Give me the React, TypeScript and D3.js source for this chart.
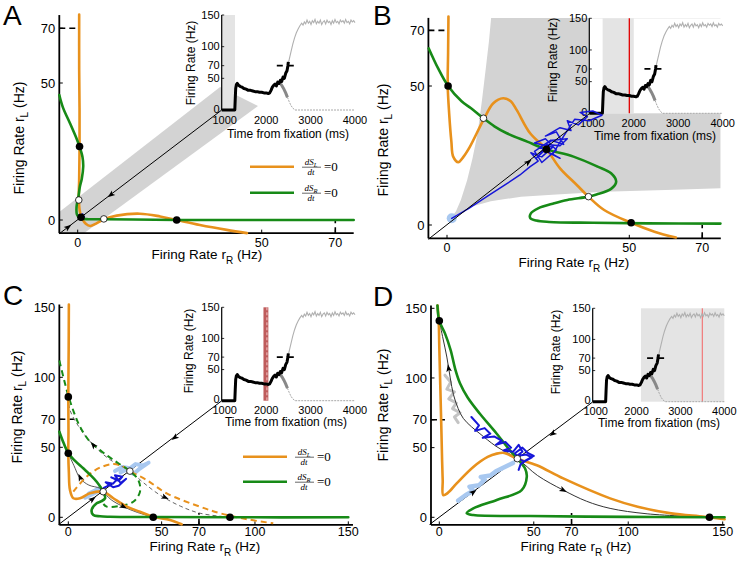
import React from 'react';
import * as d3 from 'd3';

type Pt = [number, number];

const FONT = "'Liberation Sans', Arial, Helvetica, sans-serif";
const SERIF = "'Liberation Serif', 'DejaVu Serif', serif";
const ORANGE = '#E8911C';
const GREEN = '#178A17';
const BLUE = '#1616D8';
const LIGHTBLUE = '#A8C8F0';
const SHADE = '#D3D3D3';
const INSET_SHADE = '#E4E4E4';

// ---------------- inset time course (shared) ----------------
const insetTimeTicks = [1000, 2000, 3000, 4000];
const insetRateTicks = [0, 50, 70, 100, 150];
const traceBlack: Pt[] = [[1000, 0], [1295, 0], [1305, 18], [1315, 34], [1330, 40], [1350, 42], [1380, 39], [1420, 37], [1460, 36], [1500, 34], [1550, 33], [1600, 31], [1650, 31], [1700, 30], [1750, 29], [1800, 29], [1850, 28], [1900, 28], [1950, 27], [2000, 27], [2050, 26], [2080, 27], [2110, 31], [2140, 36], [2170, 39], [2200, 41], [2230, 38], [2260, 44], [2290, 42], [2320, 47], [2350, 45], [2380, 52], [2410, 50], [2440, 58], [2470, 62], [2490, 70], [2500, 76]];
const traceGrayFall: Pt[] = [[2280, 45], [2320, 42], [2360, 38], [2400, 33], [2440, 27], [2480, 20]];
const traceGrayTail: Pt[] = [[2480, 20], [2520, 13], [2560, 7], [2600, 3], [2650, 0], [4000, 0]];
const traceLight: Pt[] = [[2480, 68], [2520, 80], [2560, 92], [2600, 104], [2640, 114], [2680, 122], [2720, 128], [2760, 133], [2800, 137], [2830, 134], [2860, 139], [2890, 136], [2920, 142], [2950, 137], [2980, 140], [3010, 135], [3040, 141], [3070, 138], [3100, 143], [3130, 136], [3160, 140], [3190, 137], [3220, 142], [3250, 135], [3280, 139], [3310, 141], [3340, 136], [3370, 142], [3400, 138], [3430, 140], [3460, 135], [3490, 141], [3520, 137], [3550, 143], [3580, 138], [3610, 140], [3640, 136], [3670, 142], [3700, 139], [3730, 141], [3760, 137], [3790, 143], [3820, 138], [3850, 140], [3880, 136], [3910, 142], [3940, 139], [3970, 141], [4000, 138]];
const insetThreshold: Pt[] = [[2240, 70], [2730, 70]];

// ---------------- Panel A ----------------
const ticksA = [0, 50, 70];
const bandA: Pt[] = [[-5, -4.8], [-5, 2.9], [38.7, 48.5], [49, 41.6], [1.7, -4.8]];
const diagA: Pt[] = [[-5, -5], [39, 40]];
const orangeA: Pt[] = [[0.4, 75], [0.4, 55], [0.5, 40], [0.5, 26.8], [0.4, 15], [0.3, 8], [0.6, 3], [1.3, 0.3], [2.2, -1.4], [3.4, -2.2], [5, -1.3], [7, 0.2], [10.6, 1.6], [16.9, 2.3], [22.4, 1.3], [26.9, 0], [33.2, -1.8], [40.5, -3.6], [46, -4.8]];
const greenA: Pt[] = [[-5, 45.6], [-4, 41], [-2.1, 35.3], [-0.4, 30], [0.5, 26.8], [1.3, 23], [1.5, 19.5], [1.1, 15], [0.6, 12.2], [0.2, 8.5], [-0.3, 5], [-0.2, 2], [0.6, 0.7], [3, 0.3], [7.1, 0.3], [15, 0.2], [26.9, 0], [50, 0], [75, 0]];
const blueA: Pt[] = [[0.4, 1.6], [1.4, 2.2], [1.0, 0.6], [1.8, 1.3]];
const blackDotsA: Pt[] = [[0.5, 26.8], [0.9, 1.0], [26.9, 0]];
const whiteDotsA: Pt[] = [[0.3, 7.3], [7.1, 0.4]];
const arrowsA = [[9, 9.2, -1, -1], [-2.6, -2.6, 1, 1]];

// ---------------- Panel B ----------------
const ticksB = [0, 50, 70];
const regionB: Pt[] = [[1.1, 2.4], [2.5, 5], [3.8, 9], [5.5, 16], [7, 24], [8.4, 33], [9.6, 45], [10.7, 57], [11.5, 66], [12.1, 74.5], [75, 74.5], [75, 13.2], [60, 12.6], [43, 12], [30, 11], [20.3, 10.2], [12, 8.5], [6.6, 6.6], [3, 4]];
const diagB: Pt[] = [[-5, -5], [39, 40]];
const orangeB: Pt[] = [[0.4, 75], [0.3, 62], [0.2, 50], [0.6, 40], [1.2, 30], [1.7, 24.6], [3.1, 22.6], [4.5, 24.5], [6.3, 28.2], [10, 37.8], [12.7, 43.8], [15.4, 45.6], [17.5, 44.5], [19.1, 41.4], [22.8, 33], [27.3, 27.2], [31, 20.4], [35.6, 14.4], [38.8, 10.2], [43.1, 5.4], [50.5, 0.8], [56.9, -2.4], [62.8, -4.5]];
const greenB: Pt[] = [[-5, 63.5], [-2.5, 56.5], [0.3, 50], [4, 44.5], [6.6, 42], [10, 38.4], [13, 35.5], [16.4, 33], [22, 30], [27.3, 27.2], [34.7, 24.6], [41.3, 21], [45, 18.6], [46.4, 15.6], [45, 13], [41, 11], [38.8, 10.2], [33, 9], [29.4, 7.8], [25, 6], [23, 4.2], [22.8, 2.6], [24.5, 1.6], [28, 1.1], [40, 0.8], [55, 0.6], [75, 0.5]];
const blueB: Pt[] = [[1.3, 2.4], [6, 6], [10.9, 10.2], [16, 14.5], [20, 18], [22.8, 21], [25, 23], [23, 26], [26, 24.5], [29, 28], [24, 29.5], [27, 31], [30, 27], [26, 22.5], [24, 26.5], [28.5, 30.5], [32, 29], [30, 33.5], [27, 32], [31, 35], [34, 34], [33, 37.5], [36, 36], [38.5, 39], [36.5, 40.5], [40, 41], [42.5, 39.5], [39, 37.5], [35, 38], [32, 32], [29, 25.5], [31, 24], [28, 26], [25.5, 28], [29, 30.5], [33, 31], [31, 28.5], [27.5, 29], [24.5, 24], [26.5, 26.5]];
const lightBlueB: Pt[] = [[1.3, 2.4]];
const blackDotsB: Pt[] = [[0.3, 50], [27.3, 27.2], [50.5, 0.8]];
const whiteDotsB: Pt[] = [[10, 38.4], [38.8, 10.2]];
const arrowsB = [[22.3, 22.6, 1, 1]];

// ---------------- Panel C ----------------
const ticksC = [0, 50, 70, 100, 150];
const diagC: Pt[] = [[-5, -5], [82, 83]];
const orangeC: Pt[] = [[0.3, 152], [0.2, 120], [0, 86], [0.1, 62], [0, 45.7], [0.3, 32], [0.9, 19.5], [2.7, 13.6], [6.3, 13.6], [11.6, 17.1], [18.7, 18.3], [24.1, 13.6], [31.3, 7.6], [38.4, 4], [45.5, 0.4], [54.5, -1.9], [60.7, -5]];
const greenC: Pt[] = [[-4.8, 61.1], [-2.5, 53], [0, 45.7], [3.5, 40.5], [8, 35], [12, 30], [15.2, 25.4], [18.7, 18.3], [19.7, 13.6], [17.5, 11.3], [15.2, 10], [12.5, 5.2], [13.4, 1.6], [17, 0.7], [22.3, 0.4], [45.5, 0.2], [86.6, 0], [150, 0]];
const orangeDashC: Pt[] = [[2.7, 18.3], [9.8, 29], [17, 35.5], [24, 38], [29, 36.5], [33, 33], [42, 26.6], [52.7, 17.1], [70.5, 7.6], [81.3, 2.9], [95, -1.2], [109.8, -4.3]];
const greenDashC: Pt[] = [[-4.8, 112], [-2.6, 100], [0, 87], [3, 75], [6.3, 64.7], [11, 55], [17, 48], [22, 43], [26.8, 38.6], [33, 33], [37.5, 26.6], [38.4, 18.3], [34.8, 11.1], [27.7, 8.1], [20.6, 7.6], [18.8, 9.5]];
const graySolidC: Pt[] = [[0, 45.7], [3, 37], [6.3, 27.9], [11, 23], [17, 20.7], [18.7, 18.3], [23, 12.5], [29.5, 7.6], [37, 3.5], [45.5, 0.2]];
const grayDashC: Pt[] = [[0, 86], [0.9, 76.6], [6, 64], [13.4, 51.6], [22, 41.5], [33, 33], [40, 25], [49.1, 15.9], [60, 8], [70.6, 2.9], [86.6, 0]];
const blueC: Pt[] = [[19, 21], [22, 23], [20, 25], [24, 24], [26, 27], [23, 28.5], [27, 26], [29, 29], [25, 30], [28, 24.5], [31, 27.5], [27, 22.5], [24, 21.5], [21, 24]];
const lightBlueC1: Pt[] = [[25, 33], [29, 36], [33, 35], [36, 38], [40, 37], [43, 39], [38, 34.5], [35, 31], [31, 34], [28, 32]];
const lightBlueC2: Pt[] = [[9, 14], [12, 16], [15, 18], [17, 21], [14, 19], [11, 17]];
const blackDotsC: Pt[] = [[0, 86], [0, 45.7], [45.5, 0], [86.6, 0]];
const whiteDotsC: Pt[] = [[18.7, 18.3], [33, 33]];
const arrowsC = [[57, 57, -1, -1], [13, 13, 1, 1], [6.3, 28.5, -1, 3], [29.5, 7.6, 1, -0.7], [13.4, 51.6, -1, 1.6], [51.8, 14.2, 1, -0.6]];

// ---------------- Panel D ----------------
const ticksD = [0, 50, 70, 100, 150];
const diagD: Pt[] = [[-5, -5], [81, 82.6]];
const orangeD: Pt[] = [[-0.9, 152], [-0.3, 140], [0, 122], [0.9, 74.3], [1.5, 40], [1.8, 26.6], [2.1, 15.9], [4.5, 17.5], [9.2, 24.3], [18, 36.1], [25.6, 43.3], [30.4, 45.7], [34.4, 46.2], [37.4, 44.5], [41.3, 42.1], [51.6, 37.4], [65.6, 27.9], [90.4, 13.6], [105, 7.6], [122.7, 2.8], [140.3, 0.4], [151, -1.4]];
const greenD: Pt[] = [[-1, 152], [0, 141], [3, 132], [6, 120], [8.5, 106], [11, 96], [15, 86], [21.5, 74.3], [30.4, 60], [37.4, 48], [41.3, 42.1], [45.4, 35], [46.3, 29], [43.6, 19.5], [30.4, 12.4], [18, 6.4], [14.5, 2.9], [18, 1.6], [48, 0.9], [100, 0.3], [143, 0], [151, 0]];
const thinD: Pt[] = [[0, 141], [2, 128], [4, 115], [5.8, 100], [7.5, 88], [10, 78], [12.7, 71], [17, 65], [21.5, 60], [30, 51], [41.3, 42.1], [52, 30], [65.6, 19.5], [78, 11.5], [90.4, 6.4], [110, 2.5], [143, 0]];
const blueD: Pt[] = [[17, 72], [21, 66], [19, 62], [24, 64], [27, 60], [23, 57], [29, 58], [33, 55], [30, 52], [35, 54], [38, 50], [34, 48], [39, 47], [42, 52], [44, 47], [41, 44], [46, 45], [49, 43], [45, 40], [42, 42], [40, 46], [44, 50], [47, 46], [50, 44], [46, 41], [43, 38], [42, 34]];
const lightBlueD: Pt[] = [[10, 12], [14, 16], [18, 19], [16, 22], [21, 23], [24, 27], [22, 29], [27, 30], [30, 33], [33, 35], [36, 37], [39, 39]];
const lightGrayD: Pt[] = [[3, 102], [6, 97], [4, 92], [8, 90], [5, 85], [9, 82], [7, 78], [11, 75], [8, 72], [10, 68]];
const blackDotsD: Pt[] = [[0, 141], [143, 0]];
const whiteDotsD: Pt[] = [[41.3, 42.1]];
const arrowsD = [[18, 18, 1, 1], [60, 60, -1, -1], [4.9, 107, -1, 8], [65.6, 19.5, 1, -0.7]];

// ---------------- geometry ----------------
interface Geo { xTick: [number, number]; xPix: [number, number]; yTick: [number, number]; yPix: [number, number]; ext: [number, number, number, number]; }
const geoA: Geo = { xTick: [0, 50], xPix: [77.7, 261.7], yTick: [0, 50], yPix: [220, 83], ext: [-5, 75, -4.8, 74.8] };
const geoB: Geo = { xTick: [0, 50], xPix: [447, 629.3], yTick: [0, 50], yPix: [225, 86], ext: [-5.1, 75.1, -4.8, 74.5] };
const geoC: Geo = { xTick: [0, 150], xPix: [68.3, 348.3], yTick: [0, 150], yPix: [517.3, 307.3], ext: [-4.8, 152.5, -5.4, 152] };
const geoD: Geo = { xTick: [0, 150], xPix: [439.3, 722.7], yTick: [0, 150], yPix: [517.3, 308.3], ext: [-4.4, 151, -5.5, 152] };

interface IGeo { x0: number; x1: number; y0: number; y1: number; }
const insA: IGeo = { x0: 221.7, x1: 355, y0: 110, y1: 15 };
const insB: IGeo = { x0: 589.3, x1: 722.7, y0: 113.3, y1: 18.3 };
const insC: IGeo = { x0: 221.7, x1: 355, y0: 400.7, y1: 307.3 };
const insD: IGeo = { x0: 592.7, x1: 724.3, y0: 401.7, y1: 308.3 };

type S = { sx: d3.ScaleLinear<number, number>; sy: d3.ScaleLinear<number, number>; g: Geo };
function scales(g: Geo): S {
  return { sx: d3.scaleLinear().domain(g.xTick).range(g.xPix), sy: d3.scaleLinear().domain(g.yTick).range(g.yPix), g };
}

function Curve({ s, data, color, width, dash, smooth = true, opacity = 1 }: { s: S; data: Pt[]; color: string; width: number; dash?: string; smooth?: boolean; opacity?: number }) {
  const gen = d3.line<Pt>().x(d => s.sx(d[0])).y(d => s.sy(d[1])).curve(smooth ? d3.curveCatmullRom.alpha(0.5) : d3.curveLinear);
  return <path d={gen(data) || ''} fill="none" stroke={color} strokeWidth={width} strokeDasharray={dash} strokeLinejoin="round" strokeLinecap={dash ? 'butt' : 'round'} opacity={opacity} />;
}

function Area({ s, data, fill }: { s: S; data: Pt[]; fill: string }) {
  const gen = d3.line<Pt>().x(d => s.sx(d[0])).y(d => s.sy(d[1])).curve(d3.curveLinearClosed);
  return <path d={gen(data) || ''} fill={fill} stroke="none" />;
}

function Dots({ s, black, white }: { s: S; black: Pt[]; white: Pt[] }) {
  return (
    <g>
      {black.map((d, i) => <circle key={'b' + i} cx={s.sx(d[0])} cy={s.sy(d[1])} r={3.8} fill="#000" />)}
      {white.map((d, i) => <circle key={'w' + i} cx={s.sx(d[0])} cy={s.sy(d[1])} r={3.3} fill="#fff" stroke="#000" strokeWidth={0.8} />)}
    </g>
  );
}

function Arrows({ s, data }: { s: S; data: number[][] }) {
  return (
    <g>
      {data.map((a, i) => {
        const [x, y, dx, dy] = a;
        const px = s.sx(x), py = s.sy(y);
        const vx = s.sx(x + dx) - px, vy = s.sy(y + dy) - py;
        const ang = (Math.atan2(vy, vx) * 180) / Math.PI;
        return <path key={i} d="M4,0 L-3.5,-2.8 L-1.8,0 L-3.5,2.8 Z" transform={`translate(${px},${py}) rotate(${ang})`} fill="#000" />;
      })}
    </g>
  );
}

function Axes({ s, ticks, thr, thrEnd, tickBase, ylab, xlab, letter, letterPos }: { s: S; ticks: number[]; thr: number; thrEnd: number; tickBase: number; ylab: [number, number]; xlab: [number, number]; letter: string; letterPos: [number, number] }) {
  const { sx, sy, g } = s;
  const [xmin, xmax, ymin, ymax] = g.ext;
  const X0 = sx(xmin), X1 = sx(xmax), Y0 = sy(ymin), Y1 = sy(ymax);
  return (
    <g fontFamily={FONT} fill="#000">
      <line x1={X0} y1={Y0} x2={X1} y2={Y0} stroke="#000" strokeWidth={1.8} />
      <line x1={X0} y1={Y0} x2={X0} y2={Y1} stroke="#000" strokeWidth={1.8} />
      {ticks.map(t => (
        <g key={'x' + t}>
          <line x1={sx(t)} x2={sx(t)} y1={Y0} y2={Y0 - 3.5} stroke="#000" strokeWidth={1} />
          <text x={sx(t)} y={tickBase} fontSize={12.5} textAnchor="middle">{t}</text>
        </g>
      ))}
      {ticks.map(t => (
        <g key={'y' + t}>
          <line x1={X0} x2={X0 + 3.5} y1={sy(t)} y2={sy(t)} stroke="#000" strokeWidth={1} />
          <text x={X0 - 4} y={sy(t) + 4.6} fontSize={13} textAnchor="end">{t}</text>
        </g>
      ))}
      <line x1={X0} x2={sx(thrEnd)} y1={sy(thr)} y2={sy(thr)} stroke="#000" strokeWidth={1.6} strokeDasharray="6,4" />
      <line x1={sx(thr)} x2={sx(thr)} y1={Y0} y2={sy(thrEnd)} stroke="#000" strokeWidth={1.6} strokeDasharray="6,4" />
      <text transform={`translate(${ylab[0]},${ylab[1]}) rotate(-90)`} fontSize={14} textAnchor="middle">
        Firing Rate r<tspan fontSize={10} dy={4}>L</tspan><tspan dy={-4}> (Hz)</tspan>
      </text>
      <text x={xlab[0]} y={xlab[1]} fontSize={13.5} textAnchor="middle">
        Firing Rate r<tspan fontSize={10} dy={5}>R</tspan><tspan dy={-5}> (Hz)</tspan>
      </text>
      <text x={letterPos[0]} y={letterPos[1]} fontSize={28}>{letter}</text>
    </g>
  );
}

function Inset({ geo, shade, shadeColor, redLine, redColor, redBar, bg, ylab, xlab }: { geo: IGeo; shade?: [number, number]; shadeColor?: string; redLine?: number; redColor?: string; redBar?: [number, number]; bg?: boolean; ylab: [number, number]; xlab: [number, number] }) {
  const st = d3.scaleLinear().domain([1000, 4000]).range([geo.x0, geo.x1]);
  const sr = d3.scaleLinear().domain([0, 150]).range([geo.y0, geo.y1]);
  const line = d3.line<Pt>().x(d => st(d[0])).y(d => sr(d[1]));
  return (
    <g fontFamily={FONT}>
      {bg && <rect x={st(1000)} y={sr(150)} width={st(4000) - st(1000)} height={sr(0) - sr(150)} fill="#fff" />}
      {shade && <rect x={st(shade[0])} y={sr(150)} width={st(shade[1]) - st(shade[0])} height={sr(0) - sr(150)} fill={shadeColor || INSET_SHADE} />}
      {redBar && (
        <g>
          <rect x={st(redBar[0])} y={sr(150)} width={st(redBar[1]) - st(redBar[0])} height={sr(0) - sr(150)} fill="#B84A4A" opacity={0.9} />
          <line x1={st((redBar[0] + redBar[1]) / 2) + 1} x2={st((redBar[0] + redBar[1]) / 2) + 1} y1={sr(150)} y2={sr(0)} stroke="#F2C8C8" strokeWidth={1} strokeDasharray="3,2" />
        </g>
      )}
      {redLine !== undefined && <line x1={st(redLine)} x2={st(redLine)} y1={sr(150)} y2={sr(0)} stroke={redColor || '#E00000'} strokeWidth={1.3} />}
      <path d={line(traceLight) || ''} fill="none" stroke="#B0B0B0" strokeWidth={1.1} />
      <path d={line(traceGrayTail) || ''} fill="none" stroke="#A8A8A8" strokeWidth={1} strokeDasharray="2,1" />
      <path d={line(traceGrayFall) || ''} fill="none" stroke="#888" strokeWidth={3} />
      <path d={line(traceBlack) || ''} fill="none" stroke="#000" strokeWidth={3} strokeLinejoin="round" />
      <path d={line(insetThreshold) || ''} fill="none" stroke="#000" strokeWidth={1.8} strokeDasharray="6,5" />
      <line x1={st(1000)} x2={st(1000)} y1={sr(0)} y2={sr(150)} stroke="#000" strokeWidth={1.2} />
      {insetRateTicks.map(t => (
        <g key={'r' + t}>
          <line x1={st(1000)} x2={st(1000) + 2.5} y1={sr(t)} y2={sr(t)} stroke="#000" strokeWidth={0.8} />
          <text x={st(1000) - 2} y={sr(t) + (t === 0 ? 2.5 : 3.8)} fontSize={11} textAnchor="end">{t}</text>
        </g>
      ))}
      {insetTimeTicks.map(t => (
        <text key={'t' + t} x={st(t) + (t === 1000 ? 3 : 0)} y={sr(0) + 13.5} fontSize={11} textAnchor="middle">{t}</text>
      ))}
      <text transform={`translate(${ylab[0]},${ylab[1]}) rotate(-90)`} fontSize={12} textAnchor="middle">Firing Rate (Hz)</text>
      <text x={xlab[0]} y={xlab[1]} fontSize={12} textAnchor="middle">Time from fixation (ms)</text>
    </g>
  );
}

function NullLabel({ x, y, sub }: { x: number; y: number; sub: string }) {
  return (
    <g fontFamily={SERIF} fill="#000">
      <text x={x + 9} y={y - 1.5} fontSize={9} fontStyle="italic" textAnchor="middle">dS<tspan fontSize={6.5} dy={1.5}>{sub}</tspan></text>
      <line x1={x} x2={x + 19} y1={y + 0.5} y2={y + 0.5} stroke="#000" strokeWidth={0.6} />
      <text x={x + 9} y={y + 8.5} fontSize={9} fontStyle="italic" textAnchor="middle">dt</text>
      <text x={x + 22} y={y + 4.5} fontSize={13}>=0</text>
    </g>
  );
}

function Legend({ x, y, gap }: { x: number; y: number; gap: number }) {
  return (
    <g>
      <line x1={x} x2={x + 44} y1={y} y2={y} stroke={ORANGE} strokeWidth={2.6} />
      <NullLabel x={x + 52} y={y} sub="L" />
      <line x1={x} x2={x + 44} y1={y + gap} y2={y + gap} stroke={GREEN} strokeWidth={2.6} />
      <NullLabel x={x + 52} y={y + gap} sub="R" />
    </g>
  );
}

export default function App() {
  const sA = scales(geoA), sB = scales(geoB), sC = scales(geoC), sD = scales(geoD);
  const NW = 2.6;
  return (
    <svg width={742} height={561} style={{ position: 'absolute', left: 0, top: 0, background: '#fff' }}>
      <rect width={742} height={561} fill="#fff" />
      {/* ---------- Panel A ---------- */}
      <Area s={sA} data={bandA} fill={SHADE} />
      <Inset geo={insA} shade={[1000, 1300]} ylab={[195, 63]} xlab={[288, 137.5]} />
      <Axes s={sA} ticks={ticksA} thr={70} thrEnd={0} tickBase={246.5} ylab={[24, 138]} xlab={[207, 259]} letter="A" letterPos={[3, 25]} />
      <Curve s={sA} data={diagA} color="#000" width={1} smooth={false} />
      <Curve s={sA} data={orangeA} color={ORANGE} width={NW} />
      <Curve s={sA} data={greenA} color={GREEN} width={NW} />
      <Curve s={sA} data={blueA} color={BLUE} width={1.5} smooth={false} />
      <Dots s={sA} black={blackDotsA} white={whiteDotsA} />
      <Arrows s={sA} data={arrowsA} />
      <Legend x={250} y={166.7} gap={26} />

      {/* ---------- Panel B ---------- */}
      <Area s={sB} data={regionB} fill={SHADE} />
      <Inset geo={insB} shade={[1300, 2000]} redLine={1900} bg ylab={[557, 60]} xlab={[655, 139.5]} />
      <Axes s={sB} ticks={ticksB} thr={70} thrEnd={0} tickBase={251.5} ylab={[388, 140]} xlab={[574, 266.5]} letter="B" letterPos={[373, 25]} />
      {lightBlueB.map((d, i) => <circle key={i} cx={sB.sx(d[0])} cy={sB.sy(d[1])} r={5} fill={LIGHTBLUE} />)}
      <Curve s={sB} data={orangeB} color={ORANGE} width={NW} />
      <Curve s={sB} data={greenB} color={GREEN} width={NW} />
      <Curve s={sB} data={blueB} color={BLUE} width={1.5} smooth={false} />
      <Curve s={sB} data={diagB} color="#000" width={1} smooth={false} />
      <Dots s={sB} black={blackDotsB} white={whiteDotsB} />
      <Arrows s={sB} data={arrowsB} />

      {/* ---------- Panel C ---------- */}
      <Inset geo={insC} redBar={[1940, 2050]} ylab={[193, 351]} xlab={[286, 426]} />
      <Axes s={sC} ticks={ticksC} thr={70} thrEnd={3} tickBase={536} ylab={[22, 407]} xlab={[205, 551]} letter="C" letterPos={[3, 305]} />
      <Curve s={sC} data={diagC} color="#000" width={1} smooth={false} />
      <Curve s={sC} data={lightBlueC1} color={LIGHTBLUE} width={4} smooth={false} />
      <Curve s={sC} data={lightBlueC2} color={LIGHTBLUE} width={4} smooth={false} />
      <Curve s={sC} data={grayDashC} color="#555" width={0.9} dash="4,3" />
      <Curve s={sC} data={graySolidC} color="#444" width={0.9} />
      <Curve s={sC} data={orangeDashC} color={ORANGE} width={2} dash="6,4" />
      <Curve s={sC} data={greenDashC} color={GREEN} width={2} dash="6,4" />
      <Curve s={sC} data={orangeC} color={ORANGE} width={NW} />
      <Curve s={sC} data={greenC} color={GREEN} width={NW} />
      <Curve s={sC} data={blueC} color={BLUE} width={2} smooth={false} />
      <Dots s={sC} black={blackDotsC} white={whiteDotsC} />
      <Arrows s={sC} data={arrowsC} />
      <Legend x={243} y={456.7} gap={25} />

      {/* ---------- Panel D ---------- */}
      <Inset geo={insD} shade={[2100, 4000]} redLine={3500} redColor="#F08080" ylab={[560, 352]} xlab={[659, 427]} />
      <Axes s={sD} ticks={ticksD} thr={70} thrEnd={3} tickBase={536} ylab={[388, 405]} xlab={[576, 551]} letter="D" letterPos={[373, 306]} />
      <Curve s={sD} data={diagD} color="#000" width={1} smooth={false} />
      <Curve s={sD} data={lightGrayD} color="#C4C4C4" width={3} smooth={false} />
      <Curve s={sD} data={lightBlueD} color={LIGHTBLUE} width={4.5} smooth={false} />
      <Curve s={sD} data={thinD} color="#333" width={1} />
      <Curve s={sD} data={orangeD} color={ORANGE} width={NW} />
      <Curve s={sD} data={greenD} color={GREEN} width={NW} />
      <Curve s={sD} data={blueD} color={BLUE} width={2} smooth={false} />
      <Dots s={sD} black={blackDotsD} white={whiteDotsD} />
      <Arrows s={sD} data={arrowsD} />
    </svg>
  );
}
